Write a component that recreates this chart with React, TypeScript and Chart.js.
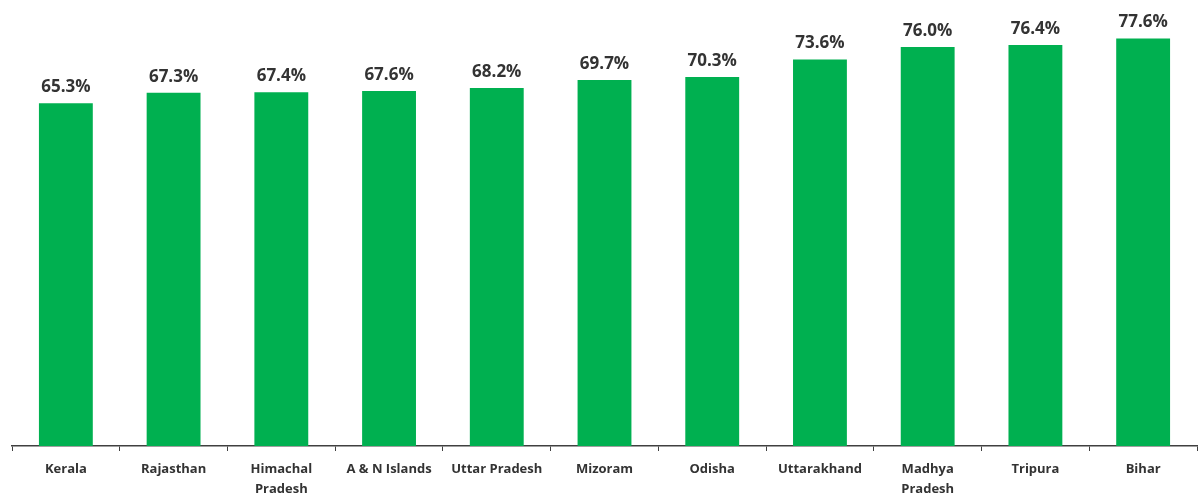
import React, { useEffect, useRef } from "react";
import { Chart, registerables } from "chart.js";

Chart.register(...registerables);

const categories: (string | string[])[] = [
  "Kerala",
  "Rajasthan",
  ["Himachal", "Pradesh"],
  "A & N Islands",
  "Uttar Pradesh",
  "Mizoram",
  "Odisha",
  "Uttarakhand",
  ["Madhya", "Pradesh"],
  "Tripura",
  "Bihar",
];
const values: number[] = [65.3, 67.3, 67.4, 67.6, 68.2, 69.7, 70.3, 73.6, 76.0, 76.4, 77.6];

const valueLabels = {
  id: "valueLabels",
  afterDatasetsDraw(chart: any) {
    const ctx = chart.ctx;
    const meta = chart.getDatasetMeta(0);
    ctx.save();
    ctx.font = "bold 17px 'Open Sans', sans-serif";
    ctx.fillStyle = "#333333";
    ctx.textAlign = "center";
    ctx.textBaseline = "middle";
    meta.data.forEach((bar: any, i: number) => {
      ctx.fillText(values[i].toFixed(1) + "%", bar.x, bar.y - 16);
    });
    ctx.restore();
  },
};

export default function App() {
  const ref = useRef<HTMLCanvasElement | null>(null);
  useEffect(() => {
    if (!ref.current) return;
    const chart = new Chart(ref.current, {
      type: "bar",
      data: {
        labels: categories,
        datasets: [
          {
            data: values,
            backgroundColor: "#00B050",
            barPercentage: 0.5,
            categoryPercentage: 1,
          },
        ],
      },
      options: {
        animation: false,
        responsive: false,
        maintainAspectRatio: false,
        layout: { padding: { left: 12, right: 3, top: 26, bottom: 0 } },
        plugins: { legend: { display: false }, tooltip: { enabled: false } },
        scales: {
          y: { display: false, min: 0, max: 80 },
          x: {
            afterFit: (scale: any) => {
              scale.height = 56;
            },
            grid: {
              display: true,
              drawOnChartArea: false,
              drawTicks: true,
              tickLength: 5,
              color: "#404040",
              offset: true,
            },
            border: { display: true, color: "#404040", width: 1.5 },
            ticks: {
              color: "#333333",
              font: { family: "'Open Sans', sans-serif", size: 13, weight: "bold", lineHeight: 1.54 },
              padding: 8,
              maxRotation: 0,
              autoSkip: false,
            },
          },
        },
      },
      plugins: [valueLabels],
    });
    return () => chart.destroy();
  }, []);
  return (
    <div style={{ position: "fixed", left: 0, top: 0, width: 1200, height: 502, background: "#fff" }}>
      <canvas ref={ref} width={1200} height={502} />
    </div>
  );
}
